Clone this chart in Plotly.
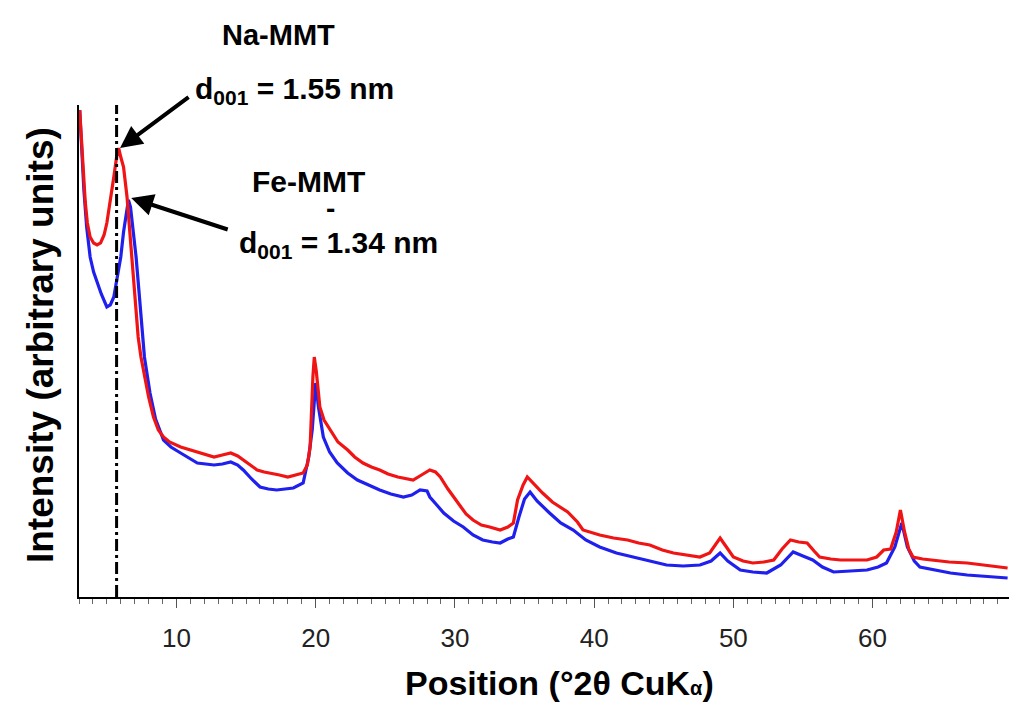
import plotly.graph_objects as go

# ---- data (intensity in arbitrary units) ----
na_x = [3.05, 3.25, 3.45, 3.6, 3.8, 4.05, 4.3, 4.55, 4.8, 5.0, 5.25, 5.5, 5.7, 5.85, 6.0, 6.2,
        6.45, 6.7, 6.9, 7.05, 7.25, 7.45, 7.63, 8.0, 8.35, 8.7, 9.07, 9.5, 10.3, 11.0, 11.5, 12.0,
        12.7, 13.3, 13.9, 14.4, 14.8, 15.3, 15.8, 16.3, 16.8, 17.4, 18.0, 18.6, 19.1, 19.4, 19.6,
        19.8, 19.9, 20.05, 20.3, 20.6, 21.05, 21.6, 22.3, 22.8, 23.4, 24.0, 24.6, 25.2, 25.9, 26.5,
        27.0, 27.6, 28.2, 28.6, 28.95, 29.5, 30.2, 30.8, 31.3, 31.9, 32.5, 33.25, 33.8, 34.2, 34.5,
        34.9, 35.2, 35.6, 36.3, 37.0, 37.8, 38.1, 38.8, 39.2, 40.4, 41.4, 42.4, 43.2, 44.0, 44.9,
        45.7, 46.6, 47.6, 48.3, 48.7, 49.05, 49.4, 50.0, 50.7, 51.4, 52.2, 52.9, 53.5, 54.1, 54.7,
        55.3, 55.8, 56.2, 57.0, 57.7, 58.6, 59.6, 60.3, 60.8, 61.3, 61.7, 62.0, 62.3, 62.6, 62.9,
        63.6, 64.3, 65.5, 66.8, 68.0, 69.0, 69.7]
na_y = [487, 440, 395, 374, 360, 354, 352, 354, 362, 374, 395, 420, 440, 449, 440, 430,
        400, 357, 325, 300, 260, 240, 227, 200, 180, 167, 160, 155, 150, 147, 145, 143,
        140, 142, 144, 141, 137, 132, 127, 125, 124, 122, 120, 122, 124, 132, 150,
        220, 240, 225, 190, 177, 167, 155, 147, 140, 134, 130, 127, 123, 120, 118,
        117, 122, 127, 125, 120, 108, 94, 83, 77, 72, 70, 67, 70, 74, 97,
        112, 120, 114, 104, 95, 88, 85, 75, 67, 62, 59, 57, 54, 52, 47,
        44, 42, 40, 44, 52, 59, 52, 40, 36, 34, 35, 37, 48, 57, 55,
        54, 46, 40, 38, 37, 37, 37, 40, 47, 48, 65, 87, 65, 48, 40,
        38, 37, 35, 34, 32, 30, 29]

fe_x = [3.05, 3.2, 3.35, 3.55, 3.8, 4.05, 4.3, 4.6, 5.0, 5.25, 5.5, 5.75, 6.0, 6.2, 6.35, 6.55,
        6.7, 6.9, 7.1, 7.3, 7.5, 7.7, 8.1, 8.5, 9.07, 9.6, 10.3, 11.0, 11.5, 12.1, 12.7, 13.3,
        13.9, 14.4, 14.8, 15.4, 16.0, 16.6, 17.2, 17.8, 18.4, 19.1, 19.5, 19.75, 19.9, 20.0, 20.2,
        20.55, 21.0, 21.55, 22.3, 23.0, 23.8, 24.6, 25.4, 26.3, 26.9, 27.5, 28.0, 28.2, 28.7, 29.2,
        29.9, 30.6, 31.3, 32.0, 32.7, 33.25, 33.8, 34.2, 34.6, 35.0, 35.4, 35.9, 36.8, 37.6, 38.5,
        39.4, 40.4, 41.6, 42.8, 44.0, 45.2, 46.4, 47.6, 48.4, 49.05, 49.6, 50.5, 51.4, 52.4, 53.4,
        54.3, 55.0, 55.7, 56.4, 57.2, 58.4, 59.6, 60.4, 61.0, 61.6, 62.1, 62.5, 63.0, 63.4, 64.5,
        65.6, 66.8, 68.0, 69.7]
fe_y = [487, 440, 407, 370, 340, 325, 314, 303, 290, 292, 300, 320, 340, 365, 380, 397,
        390, 367, 340, 307, 270, 240, 204, 178, 157, 150, 144, 138, 134, 133, 132, 133,
        135, 132, 127, 118, 110, 108, 107, 108, 109, 114, 140, 167, 200, 214, 190,
        160, 145, 134, 124, 117, 112, 107, 103, 100, 102, 107, 106, 100, 92, 84,
        76, 70, 62, 57, 55, 54, 58, 60, 80, 98, 105, 96, 84, 74, 67,
        57, 50, 44, 40, 36, 32, 31, 32, 36, 44, 36, 27, 25, 24, 32,
        45, 41, 37, 30, 25, 26, 27, 30, 34, 50, 74, 50, 36, 30, 27,
        24, 22, 21, 19]

na_peak_2theta = 5.7
x_ticks = [10, 20, 30, 40, 50, 60]

fig = go.Figure()
fig.add_trace(go.Scatter(x=fe_x, y=fe_y, mode="lines", name="Fe-MMT",
                         line=dict(color="#1f1fee", width=3.2)))
fig.add_trace(go.Scatter(x=na_x, y=na_y, mode="lines", name="Na-MMT",
                         line=dict(color="#f01414", width=3.2)))

fig.add_shape(type="line", xref="x", yref="paper", x0=na_peak_2theta, x1=na_peak_2theta,
              y0=0, y1=1, line=dict(color="black", width=3, dash="12px,4px,3px,4px"))

bold = "Liberation Sans, Arial, sans-serif"
anns = [
    dict(x=0.214, y=1.142, text="<b>Na-MMT</b>", size=29),
    dict(x=0.232, y=1.030, text="<b>d<sub>001</sub> = 1.55 nm</b>", size=30),
    dict(x=0.247, y=0.845, text="<b>Fe-MMT</b>", size=30),
    dict(x=0.270, y=0.790, text="<b>-</b>", size=28),
    dict(x=0.279, y=0.716, text="<b>d<sub>001</sub> = 1.34 nm</b>", size=30),
]
for a in anns:
    fig.add_annotation(x=a["x"], y=a["y"], xref="paper", yref="paper", text=a["text"], showarrow=False,
                       font=dict(family=bold, size=a["size"], color="black"),
                       xanchor="center", yanchor="middle")

# arrows pointing at the two d001 peaks
fig.add_annotation(x=5.95, y=449, xref="x", yref="y", ax=70, ay=-52, axref="pixel", ayref="pixel",
                   text="", showarrow=True, arrowhead=2, arrowsize=1.1, arrowwidth=4, arrowcolor="black")
fig.add_annotation(x=6.75, y=399, xref="x", yref="y", ax=98, ay=32, axref="pixel", ayref="pixel",
                   text="", showarrow=True, arrowhead=2, arrowsize=1.1, arrowwidth=4, arrowcolor="black")

# axis titles
fig.add_annotation(x=0.517, y=-0.1755, xref="paper", yref="paper",
                   text="<b>Position (°2θ CuK<span style='font-size:20px'>α</span>)</b>",
                   showarrow=False, font=dict(family=bold, size=34, color="black"),
                   xanchor="center", yanchor="middle")
fig.add_annotation(x=-0.042, y=0.512, xref="paper", yref="paper",
                   text="<b>Intensity (arbitrary units)</b>", textangle=-90,
                   showarrow=False, font=dict(family=bold, size=37, color="black"),
                   xanchor="center", yanchor="middle")

fig.update_layout(
    width=1016, height=708,
    margin=dict(l=71, r=15, t=97, b=119),
    paper_bgcolor="white", plot_bgcolor="white",
    showlegend=False,
    xaxis=dict(range=[3.0, 69.8], showgrid=False, zeroline=False,
               showline=True, linecolor="black", linewidth=1.5,
               tickmode="array", tickvals=x_ticks, ticktext=[str(t) for t in x_ticks],
               ticks="outside", ticklen=9, tickwidth=1.2, tickcolor="#555",
               ticklabelstandoff=8,
               tickfont=dict(family="Liberation Sans, Arial, sans-serif", size=26, color="#222"),
               minor=dict(dtick=1, tick0=0, ticks="outside", ticklen=5, tickwidth=1, tickcolor="#666")),
    yaxis=dict(range=[0, 492], showgrid=False, zeroline=False,
               showline=True, linecolor="black", linewidth=1.5,
               showticklabels=False, ticks=""),
)

fig.write_html("out.html")
